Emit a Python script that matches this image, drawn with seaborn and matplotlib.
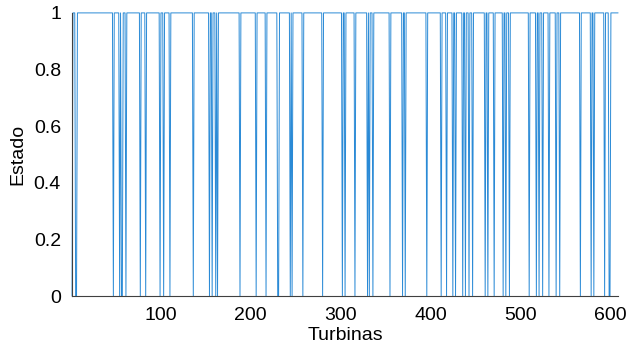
"""Binary turbine state along the farm (1 = on, 0 = off)."""

import matplotlib

matplotlib.use("Agg")

import matplotlib.pyplot as plt
import numpy as np
import pandas as pd
import seaborn as sns

# number of turbines and indices of turbines with state 0
n_turbines = 609
off_turbines = [
    1, 5, 6, 47, 54, 56, 57, 61, 77, 83, 99, 103, 110, 136, 154, 157, 161,
    163, 188, 206, 217, 230, 231, 244, 246, 258, 280, 302, 305, 316, 330,
    332, 336, 355, 369, 372, 396, 412, 418, 425, 428, 436, 439, 443, 447,
    461, 464, 471, 481, 484, 488, 510, 518, 521, 525, 532, 540, 544, 567,
    579, 582, 594, 599, 600,
]
x_ticks = [100, 200, 300, 400, 500, 600]
y_ticks = [0, 0.2, 0.4, 0.6, 0.8, 1]
y_tick_labels = ["0", "0.2", "0.4", "0.6", "0.8", "1"]

turbine = np.arange(1, n_turbines + 1)
state = np.ones(n_turbines)
state[np.array(off_turbines) - 1] = 0
frame = pd.DataFrame({"Turbinas": turbine, "Estado": state})

sns.set_theme(style="white")
plt.rcParams["font.family"] = ["Liberation Sans", "DejaVu Sans"]

fig = plt.figure(figsize=(6.32, 3.44), dpi=100)
ax = fig.add_axes([0.114, 0.1395, 0.864, 0.823])
sns.lineplot(data=frame, x="Turbinas", y="Estado", ax=ax, color="#2a8ad6", linewidth=0.7)
for line in ax.lines:
    line.set_clip_on(False)

ax.set_xlim(1, n_turbines)
ax.set_ylim(0, 1)
ax.set_xticks(x_ticks)
ax.set_yticks(y_ticks)
ax.set_yticklabels(y_tick_labels)
ax.tick_params(direction="in", length=3, width=0.6, colors="#404040", labelcolor="black", labelsize=14, pad=8)
ax.set_xlabel("Turbinas", fontsize=14, labelpad=2, color="black")
ax.set_ylabel("Estado", fontsize=14, labelpad=5, color="black")
for side in ("top", "right"):
    ax.spines[side].set_visible(False)
for side in ("left", "bottom"):
    ax.spines[side].set_color("#404040")
    ax.spines[side].set_linewidth(0.8)

fig.savefig("out.png", dpi=100)
